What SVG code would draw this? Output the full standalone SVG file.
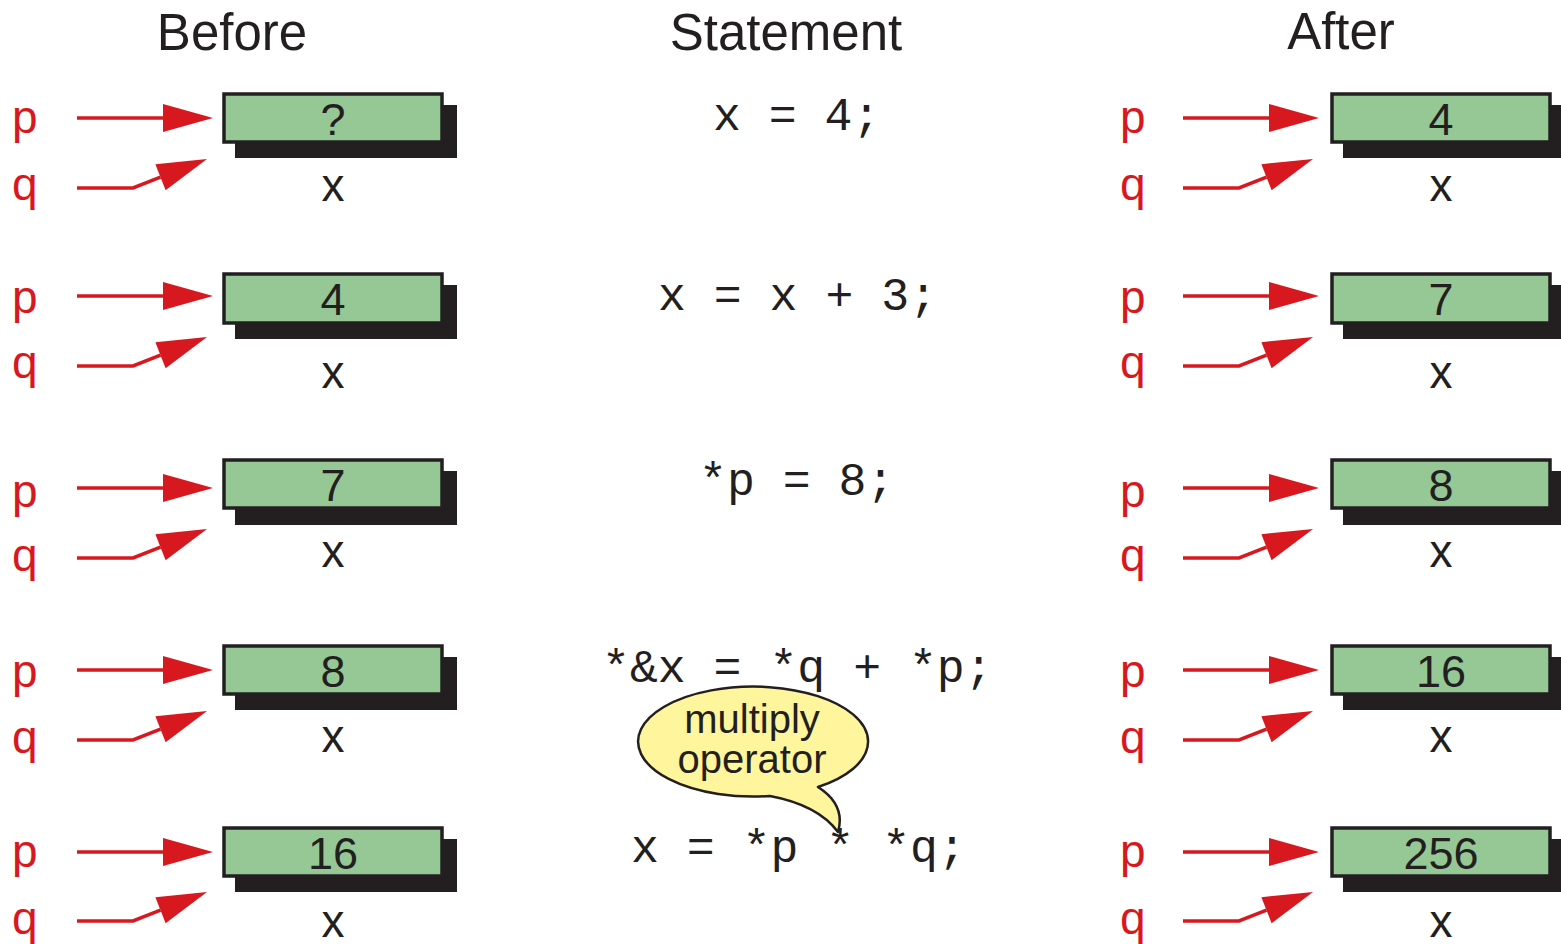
<svg xmlns="http://www.w3.org/2000/svg" width="1561" height="944" viewBox="0 0 1561 944">
<style>
.lbl{font-family:"Liberation Sans",Arial,Helvetica,sans-serif;font-size:46px;fill:#231F20;text-anchor:middle}
.ptr{font-family:"Liberation Sans",Arial,Helvetica,sans-serif;font-size:46px;fill:#D7191F}
.val{font-family:"Liberation Sans",Arial,Helvetica,sans-serif;font-size:45px;fill:#231F20;text-anchor:middle}
.ttl{font-family:"Liberation Sans",Arial,Helvetica,sans-serif;font-size:51px;fill:#231F20;text-anchor:middle}
.code{font-family:"Liberation Mono","Courier New",monospace;font-size:46.5px;fill:#231F20}
.note{font-family:"Liberation Sans",Arial,Helvetica,sans-serif;font-size:40px;fill:#231F20;text-anchor:middle}
.shadow{fill:#231F20}
.box{fill:#96C896;stroke:#231F20;stroke-width:3.5}
.arr{fill:none;stroke:#D7191F;stroke-width:3.5;marker-end:url(#ah)}
</style>
<defs>
<marker id="ah" markerUnits="userSpaceOnUse" markerWidth="50" markerHeight="28" refX="0" refY="14" orient="auto" overflow="visible">
<path d="M0,0 L50,14 L0,28 Z" fill="#D7191F"/>
</marker>
</defs>
<rect width="1561" height="944" fill="#FFFFFF"/>

<g id="titles">
<text class="ttl" x="232" y="50">Before</text>
<text class="ttl" x="786" y="50">Statement</text>
<text class="ttl" x="1341" y="49">After</text>
</g>

<g id="before-1">
<rect class="shadow" x="235" y="105" width="222" height="53"/>
<rect class="box" x="224" y="94" width="218" height="48"/>
<text class="val" x="333" y="135">?</text>
<text class="lbl" x="333" y="201">x</text>
<text class="ptr" x="12" y="133">p</text>
<text class="ptr" x="12" y="200">q</text>
</g>
<g id="before-2">
<rect class="shadow" x="235" y="285" width="222" height="54"/>
<rect class="box" x="224" y="274" width="218" height="49"/>
<text class="val" x="333" y="315">4</text>
<text class="lbl" x="333" y="388">x</text>
<text class="ptr" x="12" y="313">p</text>
<text class="ptr" x="12" y="378">q</text>
</g>
<g id="before-3">
<rect class="shadow" x="235" y="471" width="222" height="54"/>
<rect class="box" x="224" y="460" width="218" height="48"/>
<text class="val" x="333" y="501">7</text>
<text class="lbl" x="333" y="567">x</text>
<text class="ptr" x="12" y="507">p</text>
<text class="ptr" x="12" y="571">q</text>
</g>
<g id="before-4">
<rect class="shadow" x="235" y="657" width="222" height="53"/>
<rect class="box" x="224" y="646" width="218" height="48"/>
<text class="val" x="333" y="687">8</text>
<text class="lbl" x="333" y="752">x</text>
<text class="ptr" x="12" y="687">p</text>
<text class="ptr" x="12" y="753">q</text>
</g>
<g id="before-5">
<rect class="shadow" x="235" y="839" width="222" height="53"/>
<rect class="box" x="224" y="828" width="218" height="48"/>
<text class="val" x="333" y="869">16</text>
<text class="lbl" x="333" y="937">x</text>
<text class="ptr" x="12" y="867">p</text>
<text class="ptr" x="12" y="934">q</text>
</g>

<g id="after-1" transform="translate(1108,0)">
<rect class="shadow" x="235" y="105" width="222" height="53"/>
<rect class="box" x="224" y="94" width="218" height="48"/>
<text class="val" x="333" y="135">4</text>
<text class="lbl" x="333" y="201">x</text>
<text class="ptr" x="12" y="133">p</text>
<text class="ptr" x="12" y="200">q</text>
</g>
<g id="after-2" transform="translate(1108,0)">
<rect class="shadow" x="235" y="285" width="222" height="54"/>
<rect class="box" x="224" y="274" width="218" height="49"/>
<text class="val" x="333" y="315">7</text>
<text class="lbl" x="333" y="388">x</text>
<text class="ptr" x="12" y="313">p</text>
<text class="ptr" x="12" y="378">q</text>
</g>
<g id="after-3" transform="translate(1108,0)">
<rect class="shadow" x="235" y="471" width="222" height="54"/>
<rect class="box" x="224" y="460" width="218" height="48"/>
<text class="val" x="333" y="501">8</text>
<text class="lbl" x="333" y="567">x</text>
<text class="ptr" x="12" y="507">p</text>
<text class="ptr" x="12" y="571">q</text>
</g>
<g id="after-4" transform="translate(1108,0)">
<rect class="shadow" x="235" y="657" width="222" height="53"/>
<rect class="box" x="224" y="646" width="218" height="48"/>
<text class="val" x="333" y="687">16</text>
<text class="lbl" x="333" y="752">x</text>
<text class="ptr" x="12" y="687">p</text>
<text class="ptr" x="12" y="753">q</text>
</g>
<g id="after-5" transform="translate(1108,0)">
<rect class="shadow" x="235" y="839" width="222" height="53"/>
<rect class="box" x="224" y="828" width="218" height="48"/>
<text class="val" x="333" y="869">256</text>
<text class="lbl" x="333" y="937">x</text>
<text class="ptr" x="12" y="867">p</text>
<text class="ptr" x="12" y="934">q</text>
</g>

<g id="statements">
<text class="code" x="713" y="130" xml:space="preserve">x = 4;</text>
<text class="code" x="658" y="310" xml:space="preserve">x = x + 3;</text>
<text class="code" x="699" y="495" xml:space="preserve">*p = 8;</text>
<text class="code" x="602" y="682" xml:space="preserve">*&amp;x = *q + *p;</text>
<text class="code" x="631" y="862" xml:space="preserve">x = *p * *q;</text>
</g>

<g id="callout">
<path d="M770,796 A115,55 0 1 1 818,787 Q846,805 838,832 Q818,805 770,796 Z" fill="#FFF59D" stroke="#231F20" stroke-width="2.5" stroke-linejoin="round"/>
<text class="note" x="752" y="733">multiply</text>
<text class="note" x="752" y="773">operator</text>
</g>

<g id="connectors">
<path class="arr" d="M77,118 H163"/>
<path class="arr" d="M77,188 H133 L160.5,177.2"/>
<path class="arr" d="M77,296 H163"/>
<path class="arr" d="M77,366 H133 L160.5,355.2"/>
<path class="arr" d="M77,488 H163"/>
<path class="arr" d="M77,558 H133 L160.5,547.2"/>
<path class="arr" d="M77,670 H163"/>
<path class="arr" d="M77,740 H133 L160.5,729.2"/>
<path class="arr" d="M77,852 H163"/>
<path class="arr" d="M77,921 H133 L160.5,910.2"/>
<g transform="translate(1106,0)">
<path class="arr" d="M77,118 H163"/>
<path class="arr" d="M77,188 H133 L160.5,177.2"/>
<path class="arr" d="M77,296 H163"/>
<path class="arr" d="M77,366 H133 L160.5,355.2"/>
<path class="arr" d="M77,488 H163"/>
<path class="arr" d="M77,558 H133 L160.5,547.2"/>
<path class="arr" d="M77,670 H163"/>
<path class="arr" d="M77,740 H133 L160.5,729.2"/>
<path class="arr" d="M77,852 H163"/>
<path class="arr" d="M77,921 H133 L160.5,910.2"/>
</g>
</g>
</svg>
